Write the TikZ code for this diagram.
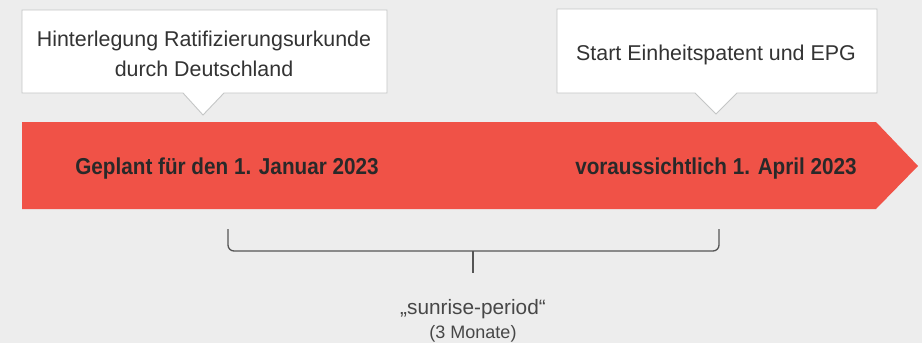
\documentclass[tikz,border=0pt]{standalone}
\usepackage{fontspec}
\setmainfont{Liberation Sans}
\newfontfamily\boldcond[FakeStretch=0.9]{Liberation Sans Bold}
\definecolor{bg}{HTML}{EDEDED}
\definecolor{band}{HTML}{F05247}
\definecolor{boxline}{HTML}{C4C6C6}
\definecolor{txt}{HTML}{333333}
\definecolor{brace}{HTML}{555555}
\begin{document}
\begin{tikzpicture}[x=1pt,y=-1pt,
  callout/.style={fill=white,draw=boxline,line width=0.9pt,line join=miter},
  calltext/.style={text=txt,font=\fontsize{21.4}{30}\selectfont,align=center,inner sep=0pt},
  bandtext/.style={text=txt!80!black,font=\boldcond\fontsize{23}{26}\selectfont,inner sep=0pt,anchor=base},
  bracestyle/.style={draw=brace,line width=1.3pt,rounded corners=6pt},
  lbl/.style={text=txt!90,inner sep=0pt,align=center,anchor=base}]
\fill[bg] (0,0) rectangle (922,343);
\useasboundingbox (0,0) rectangle (922,343);
% callouts
\draw[callout] (22,10) -- (387,10) -- (387,93) -- (224,93) -- (203,115) -- (183,93) -- (22,93) -- cycle;
\draw[callout] (557,9) -- (877,9) -- (877,93) -- (737,93) -- (716,114) -- (695,93) -- (557,93) -- cycle;
\node[calltext] (c1) at (204,54) {Hinterlegung Ratifizierungsurkunde\\durch Deutschland};
\node[calltext,anchor=base] (c2) at (716,60) {Start Einheitspatent und EPG};
% band
\fill[band] (22,122) -- (876,122) -- (918,166) -- (876,209) -- (22,209) -- cycle;
\node[bandtext] (d1) at (227,174) {Geplant für den 1. Januar 2023};
\node[bandtext] (d2) at (716,174) {voraussichtlich 1. April 2023};
% brace
\coordinate (bl) at (228,229);
\coordinate (br) at (719,229);
\coordinate (bm) at (473,251);
\coordinate (bs) at (473,273);
\draw[bracestyle] (bl) -- (bl |- bm) -- (br |- bm) -- (br);
\draw[draw=brace,line width=1.3pt] (bm) -- (bs);
\node[lbl,font=\fontsize{20.8}{23}\selectfont] (s1) at (473,314) {„sunrise-period“};
\node[lbl,font=\fontsize{18}{20}\selectfont] (s2) at (473,338) {(3 Monate)};
\end{tikzpicture}
\end{document}
